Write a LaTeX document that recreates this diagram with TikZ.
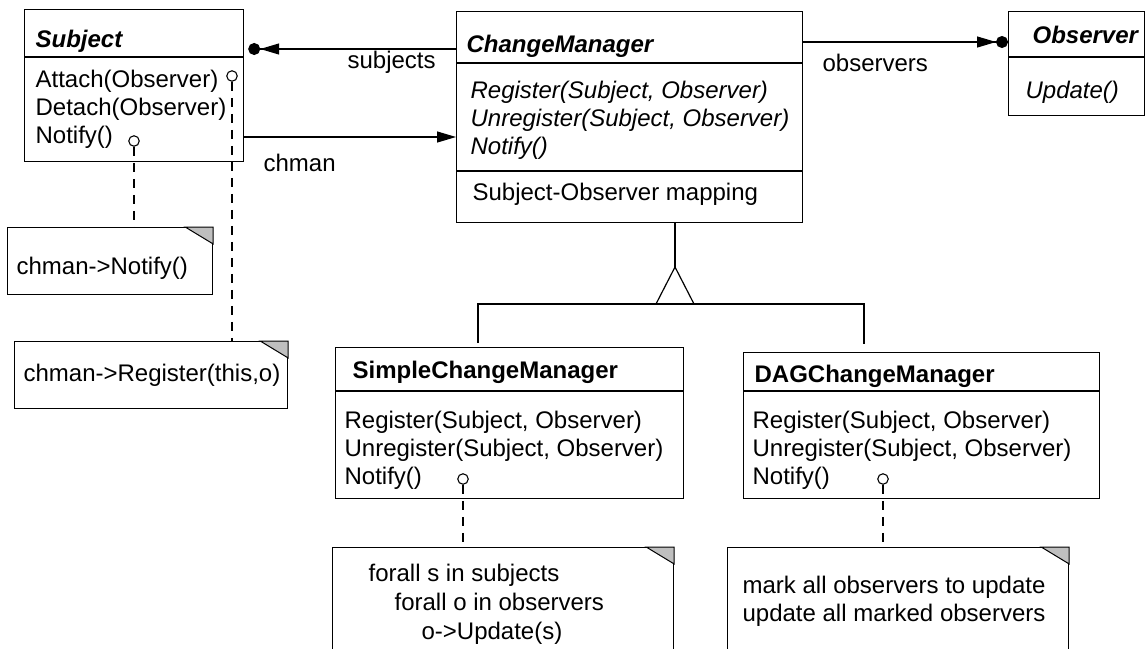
\documentclass[tikz,border=0pt]{standalone}
\usepackage{fontspec}
\setmainfont{Liberation Sans}
\usetikzlibrary{arrows.meta,calc}
\begin{document}
\begin{tikzpicture}[x=1pt,y=-1pt,line width=1.2pt,
  box/.style={draw,fill=white,rectangle,inner sep=0pt,anchor=north west},
  txt/.style={anchor=base west,inner sep=0pt,font=\fontsize{24}{28}\selectfont},
  ttl/.style={txt,font=\fontsize{24}{28}\selectfont\bfseries},
  ttli/.style={txt,font=\fontsize{24}{28}\selectfont\bfseries\itshape},
  mi/.style={txt,font=\fontsize{24}{28}\selectfont\itshape},
  pinc/.style={circle,draw,fill=white,inner sep=0pt,minimum size=10.5pt,line width=1.1pt},
  notedash/.style={dash pattern=on 9pt off 7pt,line width=1.1pt},
  fold/.style={fill=black!25,draw,line width=1pt},
  assoc/.style={-{Triangle[length=19pt,width=11pt]Circle[length=12pt]}},
  navi/.style={-{Triangle[length=19pt,width=11pt]}},
]
\clip (0,0) rectangle (1145,648);
\useasboundingbox (0,0) rectangle (1145,648);

% ---------- class boxes ----------
\node[box,minimum width=219pt,minimum height=152pt] (subject) at (24,9) {};
\node[box,minimum width=346pt,minimum height=211pt] (cm) at (456,11) {};
\node[box,minimum width=136pt,minimum height=104pt] (observer) at (1008,11) {};
\node[box,minimum width=348pt,minimum height=151pt] (simple) at (335,347) {};
\node[box,minimum width=356pt,minimum height=146pt] (dag) at (743,352) {};

% separators
\draw ($(subject.north west)+(0,48)$) -- ($(subject.north east)+(0,48)$);
\draw ($(cm.north west)+(0,52)$) -- ($(cm.north east)+(0,52)$);
\draw ($(cm.north west)+(0,160)$) -- ($(cm.north east)+(0,160)$);
\draw ($(observer.north west)+(0,46)$) -- ($(observer.north east)+(0,46)$);
\draw ($(simple.north west)+(0,44)$) -- ($(simple.north east)+(0,44)$);
\draw ($(dag.north west)+(0,39)$) -- ($(dag.north east)+(0,39)$);

% ---------- texts ----------
\node[ttli] (tsub) at (35,47) {Subject};
\node[txt] (sa) at (35,87) {Attach(Observer)};
\node[txt] (sd) at (35,115) {Detach(Observer)};
\node[txt] (sn) at (35,143) {Notify()};

\node[ttli] (tcm) at (466,52) {ChangeManager};
\node[mi] (cr) at (470,98) {Register(Subject, Observer)};
\node[mi] (cu) at (470,126) {Unregister(Subject, Observer)};
\node[mi] (cn) at (470,154) {Notify()};
\node[txt] (cmap) at (472,200) {Subject-Observer mapping};

\node[ttli] (tobs) at (1032,43) {Observer};
\node[mi] (ou) at (1025,98) {Update()};

\node[ttl] (tsim) at (352,378) {SimpleChangeManager};
\node[txt] (sr) at (344,428) {Register(Subject, Observer)};
\node[txt] (su) at (344,456) {Unregister(Subject, Observer)};
\node[txt] (snn) at (344,484) {Notify()};

\node[ttl] (tdag) at (754,382) {DAGChangeManager};
\node[txt] (dr) at (752,428) {Register(Subject, Observer)};
\node[txt] (du) at (752,456) {Unregister(Subject, Observer)};
\node[txt] (dn) at (752,484) {Notify()};

% ---------- associations ----------
\coordinate (ys) at (0,49);
\coordinate (yc) at (0,137);
\coordinate (yo) at (0,42);
\draw[assoc,shorten >=4pt] (cm.west |- ys) -- (subject.east |- ys);
\draw[navi] (subject.east |- yc) -- (cm.west |- yc);
\draw[assoc] (cm.east |- yo) -- (observer.west |- yo);
\node[txt] (lsub) at (347,68) {subjects};
\node[txt] (lch) at (263,171) {chman};
\node[txt] (lobs) at (822,71) {observers};

% ---------- generalization ----------
\coordinate (apex) at (675,267);
\coordinate (bl) at (656,304);
\coordinate (br) at (694,304);
\coordinate (hl) at (478,304);
\coordinate (hr) at (864,304);
\coordinate (el) at (478,343);
\coordinate (er) at (864,344);
\draw (cm.south -| apex) -- (apex);
\draw (apex) -- (bl) -- (br) -- cycle;
\draw (el) -- (hl) -- (hr) -- (er);

% ---------- notes ----------
\node[box,minimum width=205pt,minimum height=67pt] (n1) at (7,227) {};
\node[box,minimum width=273pt,minimum height=67pt] (n2) at (14,341) {};
\node[box,minimum width=341pt,minimum height=120pt] (n3) at (332,547) {};
\node[box,minimum width=341pt,minimum height=120pt] (n4) at (727,547) {};
\foreach \n in {n1,n2,n3,n4}{
  \filldraw[fold] ($(\n.north east)+(-28,0)$) -- (\n.north east) -- ($(\n.north east)+(0,17)$) -- cycle;
}
\node[txt] (t1) at (16,274) {chman->Notify()};
\node[txt] (t2) at (23,381) {chman->Register(this,o)};
\node[txt] (t3a) at (368,581) {forall s in subjects};
\node[txt] (t3b) at (394,610) {forall o in observers};
\node[txt] (t3c) at (421,639) {o->Update(s)};
\node[txt] (t4a) at (742,593) {mark all observers to update};
\node[txt] (t4b) at (742,621) {update all marked observers};

% ---------- note pins ----------
\node[pinc] (pa) at (232,76) {};
\node[pinc] (pn) at (134,141) {};
\node[pinc] (ps) at (463,479) {};
\node[pinc] (pd) at (883,479) {};
\draw[notedash] (pa.south) -- (n2.north -| pa);
\draw[notedash] (pn.south) -- (n1.north -| pn);
\draw[notedash] (ps.south) -- (n3.north -| ps);
\draw[notedash] (pd.south) -- (n4.north -| pd);
\end{tikzpicture}
\end{document}
